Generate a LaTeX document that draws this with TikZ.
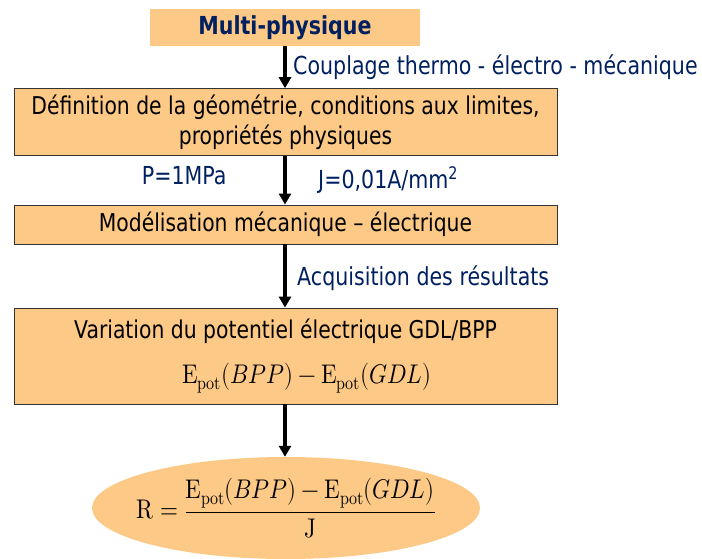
\documentclass[tikz,border=0pt]{standalone}
\usepackage{fontspec}
\usepackage{unicode-math}
\setmainfont[FakeStretch=0.83]{DejaVu Sans}
\usetikzlibrary{arrows.meta,shapes,positioning}
\definecolor{boxfill}{RGB}{253,201,134}
\definecolor{navy}{RGB}{0,32,96}
\tikzset{
	stage/.style={draw=black!80, line width=0.9pt, fill=boxfill, minimum width=543pt, inner sep=0pt, align=center, font=\fontsize{24.5}{30}\selectfont},
	flow/.style={-{Triangle[width=12pt,length=11pt]}, line width=3.4pt},
	note/.style={text=navy, inner sep=0pt, anchor=base west, font=\fontsize{24.8}{29}\selectfont}
}
\newcommand{\epot}[1]{\symup{E}_{\symup{pot}}(#1)}
\begin{document}
\begin{tikzpicture}[x=1pt,y=-1pt]
	\useasboundingbox (0,0) rectangle (702,559);
	\coordinate (ax) at (285,0);
	\node[fill=boxfill, minimum width=270pt, minimum height=36.5pt, inner sep=0pt, text=navy, font=\bfseries\fontsize{24.8}{29}\selectfont] (1) at (285,27.3) {Multi-physique};
	\node[stage, minimum height=67pt] (2) at (285.5,122.2) {Définition de la géométrie, conditions aux limites,\\propriétés physiques};
	\node[stage, minimum height=39pt] (3) at (285.5,224.5) {Modélisation mécanique – électrique};
	\node[stage, minimum height=96pt] (4) at (285.5,356) {Variation du potentiel électrique GDL/BPP\\[15pt]\hspace*{42pt}{\fontsize{27}{30}\selectfont\scalebox{0.85}[1]{$\epot{BPP}-\epot{GDL}$}}};
	\node[ellipse, fill=boxfill, minimum width=388pt, minimum height=102pt, inner sep=0pt, font=\fontsize{27}{32}\selectfont] (5) at (286,508) {\makebox[0pt]{\scalebox{0.85}[1]{$\symup{R}=\displaystyle\frac{\epot{BPP}-\epot{GDL}}{\symup{J}}$}}};
	\node[note] (c) at (293,75) {Couplage thermo - électro - mécanique};
	\node[note] (p) at (141.7,185) {P=1MPa};
	\node[note] (j) at (318,189) {J=0,01A/mm\textsuperscript{2}};
	\node[note] (a) at (297,285) {Acquisition des résultats};
	\draw[flow] (1.south -| ax) -- (2.north -| ax);
	\draw[flow] (2.south -| ax) -- (3.north -| ax);
	\draw[flow] (3.south -| ax) -- (4.north -| ax);
	\draw[flow] (4.south -| ax) -- (5.north -| ax);
\end{tikzpicture}
\end{document}
